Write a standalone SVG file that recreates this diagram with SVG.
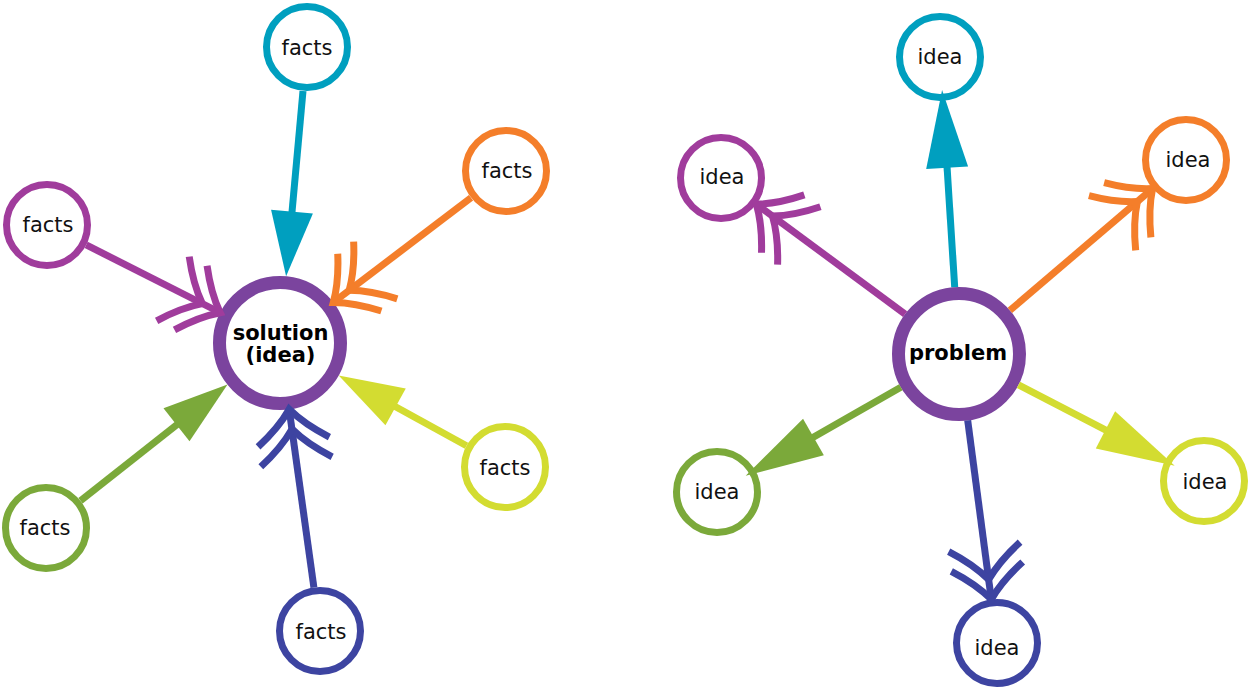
<svg xmlns="http://www.w3.org/2000/svg" xmlns:xlink="http://www.w3.org/1999/xlink" width="1248" height="691" viewBox="0 0 1248 691">
<style>
.node{fill:#fff;stroke-width:7}
.hub{fill:#fff;stroke:#7B449E;stroke-width:13}
.lbl{font-family:"DejaVu Sans",Verdana,sans-serif;font-size:21px;fill:#111;text-anchor:middle}
.hlbl{font-family:"DejaVu Sans",Verdana,sans-serif;font-size:21px;font-weight:bold;fill:#000;text-anchor:middle}
.ln{fill:none;stroke-width:7}
.teal{stroke:#009FBF}.tealf{fill:#009FBF}
.purple{stroke:#A03C9C}
.orange{stroke:#F47E2A}
.yellow{stroke:#D3DC31}.yellowf{fill:#D3DC31}
.green{stroke:#7BA93A}.greenf{fill:#7BA93A}
.blue{stroke:#3D44A1}
</style>
<defs>
<path id="chev" d="M-33,-36 Q-17,-13 0,0 Q-17,13 -33,36" fill="none" stroke-width="7"/>
<g id="dchev"><use xlink:href="#chev"/><use xlink:href="#chev" transform="translate(-20,0)"/></g>
<polygon id="triS" points="0,0 -65,-21 -65,21"/>
<polygon id="triL" points="0,0 -78,-21 -78,21"/>
</defs>

<!-- Left diagram nodes -->
<g id="solution"><circle class="hub" cx="280" cy="343" r="60.5"/><text class="hlbl" x="280.5" y="340">solution</text><text class="hlbl" x="280.5" y="362">(idea)</text></g>
<g id="facts-teal"><circle class="node teal" cx="307" cy="47" r="40.5"/><text class="lbl" x="307" y="55">facts</text></g>
<g id="facts-purple"><circle class="node purple" cx="47" cy="225" r="40.5"/><text class="lbl" x="48" y="232">facts</text></g>
<g id="facts-orange"><circle class="node orange" cx="506" cy="171" r="40.5"/><text class="lbl" x="507" y="178">facts</text></g>
<g id="facts-yellow"><circle class="node yellow" cx="505" cy="467" r="40.5"/><text class="lbl" x="505" y="475">facts</text></g>
<g id="facts-green"><circle class="node green" cx="46" cy="528" r="40.5"/><text class="lbl" x="45" y="535">facts</text></g>
<g id="facts-blue"><circle class="node blue" cx="320" cy="631" r="40.5"/><text class="lbl" x="321" y="639">facts</text></g>

<!-- Right diagram nodes -->
<g id="problem"><circle class="hub" cx="959" cy="354" r="60.5"/><text class="hlbl" x="958" y="360">problem</text></g>
<g id="idea-teal"><circle class="node teal" cx="940" cy="57" r="40.5"/><text class="lbl" x="940" y="64">idea</text></g>
<g id="idea-purple"><circle class="node purple" cx="721" cy="178" r="40.5"/><text class="lbl" x="722" y="184">idea</text></g>
<g id="idea-orange"><circle class="node orange" cx="1186" cy="160" r="40.5"/><text class="lbl" x="1188" y="167">idea</text></g>
<g id="idea-green"><circle class="node green" cx="717" cy="492" r="40.5"/><text class="lbl" x="717" y="499">idea</text></g>
<g id="idea-yellow"><circle class="node yellow" cx="1204" cy="481" r="40.5"/><text class="lbl" x="1205" y="489">idea</text></g>
<g id="idea-blue"><circle class="node blue" cx="997" cy="643" r="40.5"/><text class="lbl" x="997" y="655">idea</text></g>

<g id="connectors">
<!-- left: into solution -->
<line class="ln teal" x1="303" y1="91" x2="288" y2="256"/>
<use xlink:href="#triS" class="tealf" transform="translate(286.1,276.3) rotate(95.2)"/>

<line class="ln purple" x1="86.2" y1="244.9" x2="219" y2="312"/>
<use xlink:href="#dchev" class="purple" transform="translate(220.2,312.7) rotate(26.9)"/>

<line class="ln orange" x1="471" y1="197.7" x2="334.5" y2="301.5"/>
<use xlink:href="#dchev" class="orange" transform="translate(333.3,302.4) rotate(142.7)"/>

<line class="ln yellow" x1="466.5" y1="445.7" x2="356" y2="385"/>
<use xlink:href="#triS" class="yellowf" transform="translate(338.7,375.4) rotate(-151.1)"/>

<line class="ln green" x1="80.5" y1="500.7" x2="212" y2="397"/>
<use xlink:href="#triS" class="greenf" transform="translate(227.5,384.5) rotate(-38.3)"/>

<line class="ln blue" x1="313.9" y1="587.4" x2="289.4" y2="411"/>
<use xlink:href="#dchev" class="blue" transform="translate(289.2,409.3) rotate(-97.9)"/>

<!-- right: out of problem -->
<line class="ln teal" x1="954.7" y1="287.1" x2="943.4" y2="110"/>
<use xlink:href="#triL" class="tealf" transform="translate(942.1,89.9) rotate(-93.7)"/>

<line class="ln purple" x1="905.1" y1="314.1" x2="757.5" y2="205"/>
<use xlink:href="#dchev" class="purple" transform="translate(756.4,204.2) rotate(-143.5)"/>

<line class="ln orange" x1="1009.9" y1="310.4" x2="1151.5" y2="189.5"/>
<use xlink:href="#dchev" class="orange" transform="translate(1152.6,188.6) rotate(-40.5)"/>

<line class="ln yellow" x1="1018.5" y1="384.8" x2="1157" y2="456.6"/>
<use xlink:href="#triL" class="yellowf" transform="translate(1174.7,465.8) rotate(27.4)"/>

<line class="ln green" x1="900.8" y1="387.2" x2="763" y2="466"/>
<use xlink:href="#triL" class="greenf" transform="translate(745.7,475.7) rotate(150.3)"/>

<line class="ln blue" x1="967.7" y1="420.4" x2="991.1" y2="598"/>
<use xlink:href="#dchev" class="blue" transform="translate(991.3,599.4) rotate(82.5)"/>
</g>
</svg>
